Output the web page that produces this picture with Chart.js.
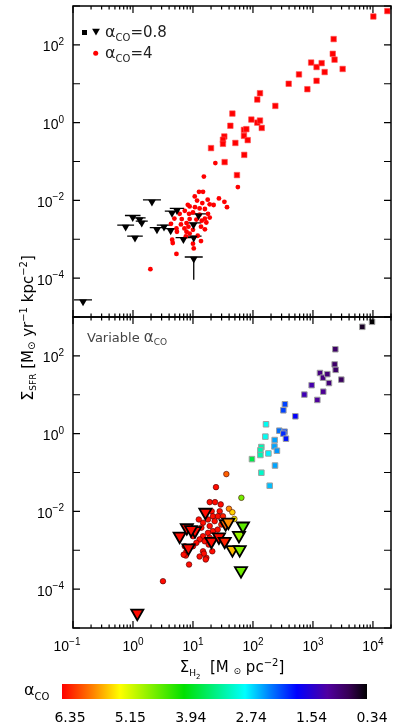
<!DOCTYPE html>
<html>
<head>
<meta charset="utf-8">
<script src="https://cdn.jsdelivr.net/npm/chart.js@4.4.1/dist/chart.umd.min.js"></script>
<style>
  html, body { margin: 0; padding: 0; background: #fff; }
  #wrap { position: relative; width: 415px; height: 728px; }
  #wrap canvas { position: absolute; left: 0; top: 0; }
</style>
</head>
<body>
<div id="wrap">
  <canvas id="panelTop" width="415" height="728"></canvas>
  <canvas id="panelBot" width="415" height="728"></canvas>
</div>
<script>
// ---------- data, top panel (fixed alpha_CO) ----------
const topSquaresX = [10160, 17380, 2213, 2138, 2291, 933, 1148, 1396, 1567, 3126, 1148, 585, 394, 807, 131, 118, 236, 45.4, 94, 118, 131, 140, 42, 70.8, 77.6, 70.8, 81.7, 33.3, 31.6, 31.6, 50.9, 20.0, 71.6, 33.7, 54.1];
const topSquaresY = [537, 741, 141, 58.9, 41.7, 35.1, 26.9, 33.9, 20.0, 24.0, 11.9, 17.4, 10.0, 7.24, 5.71, 3.93, 2.69, 1.71, 1.20, 1.0, 1.13, 0.73, 0.83, 0.65, 0.68, 0.457, 0.355, 0.44, 0.363, 0.285, 0.30, 0.221, 0.148, 0.0966, 0.0447];

const topCirclesX = [15.2, 56, 10.7, 12.6, 14.7, 11.7, 17.6, 27.1, 33.4, 36.9, 22.1, 19.0, 14.3, 8.8, 10.8, 12.9, 15.8, 6.0, 8.6, 10.0, 12.9, 17.8, 15.8, 14.0, 4.9, 6.5, 8.8, 11.4, 16.7, 7.8, 6.3, 4.3, 5.3, 7.2, 8.4, 10.0, 13.6, 15.8, 5.4, 7.8, 8.8, 7.6, 4.5, 4.6, 13.6, 10.0, 10.3, 5.3, 1.95, 23.6, 7.3, 19.0, 12.0, 8.2];
const topCirclesY = [0.041, 0.022, 0.0126, 0.0166, 0.0166, 0.0099, 0.0104, 0.0112, 0.0092, 0.0067, 0.0076, 0.0079, 0.0085, 0.0070, 0.0067, 0.0062, 0.0060, 0.0045, 0.0045, 0.0049, 0.0043, 0.0045, 0.0034, 0.0030, 0.0034, 0.0033, 0.0033, 0.0032, 0.0027, 0.0026, 0.0024, 0.0025, 0.0019, 0.0019, 0.0021, 0.00175, 0.0021, 0.0018, 0.00156, 0.00156, 0.0014, 0.00118, 0.00097, 0.0008, 0.0009, 0.00077, 0.00058, 0.00042, 0.00017, 0.091, 0.0054, 0.0036, 0.00123, 0.0077];

const topLimitsX = [0.147, 0.755, 1.08, 0.99, 1.29, 1.40, 2.07, 2.51, 3.29, 4.25, 4.47, 5.41, 6.92, 10.3, 10.2, 10.3, 12.4];
const topLimitsY = [2.45e-5, 0.00206, 0.00107, 0.00363, 0.00316, 0.0026, 0.0091, 0.00176, 0.00206, 0.00166, 0.00468, 0.0055, 0.00098, 0.00107, 0.00234, 0.00031, 0.0040];
const topLimitsXErr = [0.15, 0.14, 0.13, 0.13, 0.1, 0.1, 0.15, 0.12, 0.12, 0.12, 0.12, 0.12, 0.13, 0.13, 0.13, 0.15, 0.13]; // dex
const topLimitsYLow = [null, null, null, null, null, null, null, null, null, null, null, null, null, null, null, 9.1e-5, null];

// ---------- data, bottom panel (variable alpha_CO) ----------
const botSquaresX = [6650, 9660, 2360, 2300, 2390, 1309, 1469, 1738, 1849, 2972, 1486, 951, 719, 1183, 341, 321, 509, 165, 161, 275, 337, 321, 355, 230, 228, 251, 138, 133, 133, 181, 96.2, 233, 138, 190];
const botSquaresY = [558, 752, 148, 60.3, 43.7, 36.3, 27.5, 33.9, 20.0, 24.5, 12.0, 17.6, 10.1, 7.35, 5.69, 3.98, 2.79, 1.74, 0.838, 1.19, 1.12, 1.0, 0.741, 0.684, 0.468, 0.363, 0.452, 0.372, 0.282, 0.309, 0.221, 0.151, 0.0989, 0.0457];
const botSquaresA = [0.5, 0.35, 0.8, 0.8, 0.8, 0.95, 0.95, 0.9, 0.9, 0.75, 1.05, 1.2, 1.25, 1.1, 2.0, 2.0, 1.7, 2.8, 2.8, 2.2, 2.0, 1.9, 1.8, 2.4, 2.4, 2.35, 3.1, 3.1, 3.1, 2.7, 3.6, 2.4, 3.0, 2.5];

const botCirclesX = [36.0, 24.2, 64.1, 39.8, 45.4, 49.0, 19.0, 23.3, 20.5, 16.7, 21.5, 27.9, 26.1, 17.8, 23.0, 14.7, 13.8, 19.0, 21.5, 17.8, 14.7, 12.9, 11.4, 15.7, 19.0, 24.5, 10.0, 7.3, 7.8, 10.0, 14.7, 21.0, 16.7, 7.6, 8.6, 29.7, 31.6, 36.0, 3.16, 16.3, 7.0, 15.2, 11.1, 12.5, 25.8, 18.3, 12.9, 29.0];
const botCirclesY = [0.091, 0.042, 0.0224, 0.0117, 0.0095, 0.0064, 0.0173, 0.0173, 0.0101, 0.0092, 0.0075, 0.0101, 0.0075, 0.0062, 0.0056, 0.0051, 0.0038, 0.0042, 0.0031, 0.0028, 0.0023, 0.0019, 0.00155, 0.0017, 0.0021, 0.0021, 0.0023, 0.00127, 0.00094, 0.00127, 0.00094, 0.00094, 0.00064, 0.00073, 0.00043, 0.0046, 0.0075, 0.0056, 0.00016, 0.00058, 0.00077, 0.00082, 0.0034, 0.0062, 0.0034, 0.0014, 0.00069, 0.0151];
const botCirclesA = [5.9, 6.3, 4.5, 5.7, 5.4, 5.2,
  6.3, 6.3, 6.3, 6.3, 6.3, 6.3, 6.3, 6.3, 6.3, 6.3,
  6.3, 6.3, 6.3, 6.3, 6.3, 6.3, 6.3, 6.3, 6.3, 6.3,
  6.3, 6.3, 6.3, 6.3, 6.3, 6.3, 6.3, 6.3, 6.3,
  6.2, 6.2, 6.1, 6.3,
  6.3, 6.3, 6.3, 6.3, 6.3, 6.3, 6.3, 6.3, 6.3];

const botLimitsX = [6.0, 7.9, 10.8, 8.4, 16.1, 20.3, 27.1, 33.8, 35.1, 38.9, 45.4, 60.0, 58.5, 68.1, 63.1, 1.18, 9.3];
const botLimitsY = [0.0023, 0.0038, 0.0032, 0.00115, 0.0095, 0.0017, 0.0022, 0.0017, 0.0048, 0.0053, 0.00104, 0.00104, 0.0024, 0.0042, 0.0003, 2.4e-5, 0.0034];
const botLimitsA = [6.3, 6.3, 6.3, 6.3, 6.3, 6.3, 6.3, 6.2, 5.9, 5.7, 5.5, 4.6, 4.7, 4.4, 4.5, 6.3, 6.3];

// ---------- axes ----------
const xTicks = [0.1, 1, 10, 100, 1000, 10000];
const yTicks = [100, 1, 0.01, 0.0001];
const cbarLabels = ['6.35', '5.15', '3.94', '2.74', '1.54', '0.34'];
const alphaMax = 6.35, alphaMin = 0.34;

const FONT = "'Liberation Sans', Arial, sans-serif";
const FONT2 = "'DejaVu Sans', sans-serif";

// reversed rainbow + black colour table
const cmapStops = [
  [0, [255, 0, 0]], [0.1, [255, 128, 0]], [0.19, [255, 255, 0]], [0.4, [0, 224, 0]],
  [0.6, [0, 255, 255]], [0.68, [0, 128, 255]], [0.77, [0, 0, 255]], [0.87, [80, 0, 160]],
  [0.94, [55, 0, 85]], [1, [0, 0, 0]]
];

function cmap(a) {
  const t = Math.min(1, Math.max(0, (alphaMax - a) / (alphaMax - alphaMin)));
  for (let i = 1; i < cmapStops.length; i++) {
    const [t1, c1] = cmapStops[i];
    const [t0, c0] = cmapStops[i - 1];
    if (t <= t1) {
      const f = (t - t0) / (t1 - t0);
      const c = c0.map((v, k) => Math.round(v + f * (c1[k] - v)));
      return 'rgb(' + c.join(',') + ')';
    }
  }
  return 'rgb(0,0,0)';
}

const pts = (xs, ys) => xs.map((x, i) => ({ x: x, y: ys[i] }));

function rich(ctx, x, y, parts, align, family) {
  let w = 0;
  parts.forEach(p => { ctx.font = p[1] + 'px ' + family; w += ctx.measureText(p[0]).width; });
  let cx = align === 'right' ? x - w : align === 'center' ? x - w / 2 : x;
  ctx.textAlign = 'left';
  ctx.textBaseline = 'alphabetic';
  parts.forEach(p => {
    ctx.font = p[1] + 'px ' + family;
    ctx.fillText(p[0], cx, y + (p[2] || 0));
    cx += ctx.measureText(p[0]).width;
  });
}

function expParts(v) {
  const e = Math.round(Math.log10(v));
  return [['10', 14, 0], [String(e).replace('-', '\u2212'), 10, -6.5]];
}

function triangle(ctx, x, y, r) {
  ctx.beginPath();
  ctx.moveTo(x, y + r);
  ctx.lineTo(x - r * 0.866, y - r / 2);
  ctx.lineTo(x + r * 0.866, y - r / 2);
  ctx.closePath();
}

/*
=====================================
PANEL PLUGIN (frame, ticks, labels)
=====================================
*/

const panelPlugin = {
  id: 'panel',

  beforeDatasetsDraw(chart, args, o) {
    if (!o.errors) return;
    const { ctx, scales: { x, y } } = chart;
    ctx.save();
    ctx.strokeStyle = '#000';
    ctx.lineWidth = 1.3;
    ctx.beginPath();
    topLimitsX.forEach((v, i) => {
      const f = Math.pow(10, topLimitsXErr[i]);
      const py = y.getPixelForValue(topLimitsY[i]) - 2;
      ctx.moveTo(x.getPixelForValue(v / f), py);
      ctx.lineTo(x.getPixelForValue(v * f), py);
      if (topLimitsYLow[i]) {
        const px = x.getPixelForValue(v);
        ctx.moveTo(px, py);
        ctx.lineTo(px, y.getPixelForValue(topLimitsYLow[i]));
      }
    });
    ctx.stroke();
    ctx.restore();
  },

  afterDraw(chart, args, o) {
    const { ctx, chartArea: a, scales: { x, y } } = chart;
    ctx.save();
    ctx.strokeStyle = '#000';
    ctx.lineWidth = 1.2;
    ctx.beginPath();
    for (let e = -5; e <= 3; e++) {
      const py = y.getPixelForValue(Math.pow(10, e));
      ctx.moveTo(a.left, py); ctx.lineTo(a.left + 7, py);
      ctx.moveTo(a.right, py); ctx.lineTo(a.right - 7, py);
    }
    for (let e = -1; e <= 4; e++) {
      for (let m = 1; m <= 9; m++) {
        const v = m * Math.pow(10, e);
        if (v > x.max) break;
        const px = x.getPixelForValue(v);
        const len = m === 1 ? 7 : 3.5;
        ctx.moveTo(px, a.top); ctx.lineTo(px, a.top + len);
        ctx.moveTo(px, a.bottom); ctx.lineTo(px, a.bottom - len);
      }
    }
    ctx.stroke();
    ctx.lineWidth = 1.5;
    ctx.strokeRect(a.left, a.top, a.right - a.left, a.bottom - a.top);

    ctx.fillStyle = '#000';
    yTicks.forEach(v => rich(ctx, 64, y.getPixelForValue(v) + 6.5, expParts(v), 'right', FONT));

    if (o.legend) {
      ctx.fillRect(82, 30, 5, 5);
      triangle(ctx, 96, 31, 4.5);
      ctx.fill();
      ctx.fillStyle = '#ff0000';
      ctx.beginPath();
      ctx.arc(95.7, 53.3, 2.5, 0, Math.PI * 2);
      ctx.fill();
      ctx.fillStyle = '#222';
      rich(ctx, 105, 37, [['\u03b1', 16, 0], ['CO', 10, 3.5], ['=0.8', 15, 0]], 'left', FONT2);
      rich(ctx, 105, 58, [['\u03b1', 16, 0], ['CO', 10, 3.5], ['=4', 15, 0]], 'left', FONT2);
    }

    if (o.bottom) {
      xTicks.forEach(v => rich(ctx, x.getPixelForValue(v) - (v < 1 ? 6 : 0), 651, expParts(v), 'center', FONT));

      ctx.fillStyle = '#444';
      rich(ctx, 87, 342, [['Variable ', 13, 0], ['\u03b1', 15, 0], ['CO', 9, 3]], 'left', FONT2);

      ctx.fillStyle = '#000';
      rich(ctx, 232, 672, [['\u03a3', 15, 0], ['H', 9, 4], ['2', 7, 7], ['  [M ', 15, 0], ['\u2299', 9, 2], [' pc', 15, 0], ['\u22122', 10, -6], [']', 15, 0]], 'center', FONT2);

      ctx.save();
      ctx.translate(33, 328);
      ctx.rotate(-Math.PI / 2);
      rich(ctx, 0, 0, [['\u03a3', 16, 0], ['SFR', 9, 3], [' [M', 15, 0], ['\u2299', 10, 2], [' yr', 15, 0], ['\u22121', 10, -6], [' kpc', 15, 0], ['\u22122', 10, -6], [']', 15, 0]], 'center', FONT2);
      ctx.restore();

      // colour bar
      const bx = 62, by = 684, bw = 305, bh = 15;
      const g = ctx.createLinearGradient(bx, 0, bx + bw, 0);
      cmapStops.forEach(s => g.addColorStop(s[0], 'rgb(' + s[1].join(',') + ')'));
      ctx.fillStyle = g;
      ctx.fillRect(bx, by, bw, bh);
      ctx.fillStyle = '#000';
      cbarLabels.forEach((t, i) => rich(ctx, 70 + i * 60.4, 722, [[t, 14, 0]], 'center', FONT2));
      rich(ctx, 24, 695, [['\u03b1', 16, 0], ['CO', 10, 5]], 'left', FONT2);
    }
    ctx.restore();
  }
};

function logScales() {
  return {
    x: { type: 'logarithmic', min: 0.1, max: 2e4, display: false },
    y: { type: 'logarithmic', min: 1e-5, max: 1e3, display: false }
  };
}

const baseOptions = (padding, panel) => ({
  responsive: false,
  animation: false,
  devicePixelRatio: 1,
  events: [],
  layout: { padding: padding },
  scales: logScales(),
  plugins: { legend: { display: false }, tooltip: { enabled: false }, panel: panel }
});

/*
=====================================
TOP PANEL
=====================================
*/

new Chart(document.getElementById('panelTop'), {
  type: 'scatter',
  data: {
    datasets: [
      {
        data: pts(topLimitsX, topLimitsY), clip: false,
        pointStyle: 'triangle', pointRotation: 180, pointRadius: 4.5,
        pointBackgroundColor: '#000', pointBorderWidth: 0
      },
      {
        data: pts(topSquaresX, topSquaresY), clip: false,
        pointStyle: 'rect', pointRadius: 3.9,
        pointBackgroundColor: '#ff0000', pointBorderColor: '#ff5050', pointBorderWidth: 0.6
      },
      {
        data: pts(topCirclesX, topCirclesY), clip: false,
        pointStyle: 'circle', pointRadius: 2.4,
        pointBackgroundColor: '#ff0000', pointBorderWidth: 0
      }
    ]
  },
  options: baseOptions({ left: 73, right: 24, top: 6, bottom: 411 }, { errors: true, legend: true }),
  plugins: [panelPlugin]
});

/*
=====================================
BOTTOM PANEL
=====================================
*/

new Chart(document.getElementById('panelBot'), {
  type: 'scatter',
  data: {
    datasets: [
      {
        data: pts(botLimitsX, botLimitsY), clip: false,
        pointStyle: 'triangle', pointRotation: 180, pointRadius: 7,
        pointBackgroundColor: botLimitsA.map(cmap), pointBorderColor: '#000', pointBorderWidth: 1.8
      },
      {
        data: pts(botSquaresX, botSquaresY), clip: false,
        pointStyle: 'rect', pointRadius: 3.9,
        pointBackgroundColor: botSquaresA.map(cmap), pointBorderColor: '#a0a0a0', pointBorderWidth: 1
      },
      {
        data: pts(botCirclesX, botCirclesY), clip: false,
        pointStyle: 'circle', pointRadius: 2.8,
        pointBackgroundColor: botCirclesA.map(cmap), pointBorderColor: 'rgba(70,0,0,0.85)', pointBorderWidth: 0.7
      }
    ]
  },
  options: baseOptions({ left: 73, right: 24, top: 317, bottom: 100 }, { bottom: true }),
  plugins: [panelPlugin]
});
</script>
</body>
</html>
